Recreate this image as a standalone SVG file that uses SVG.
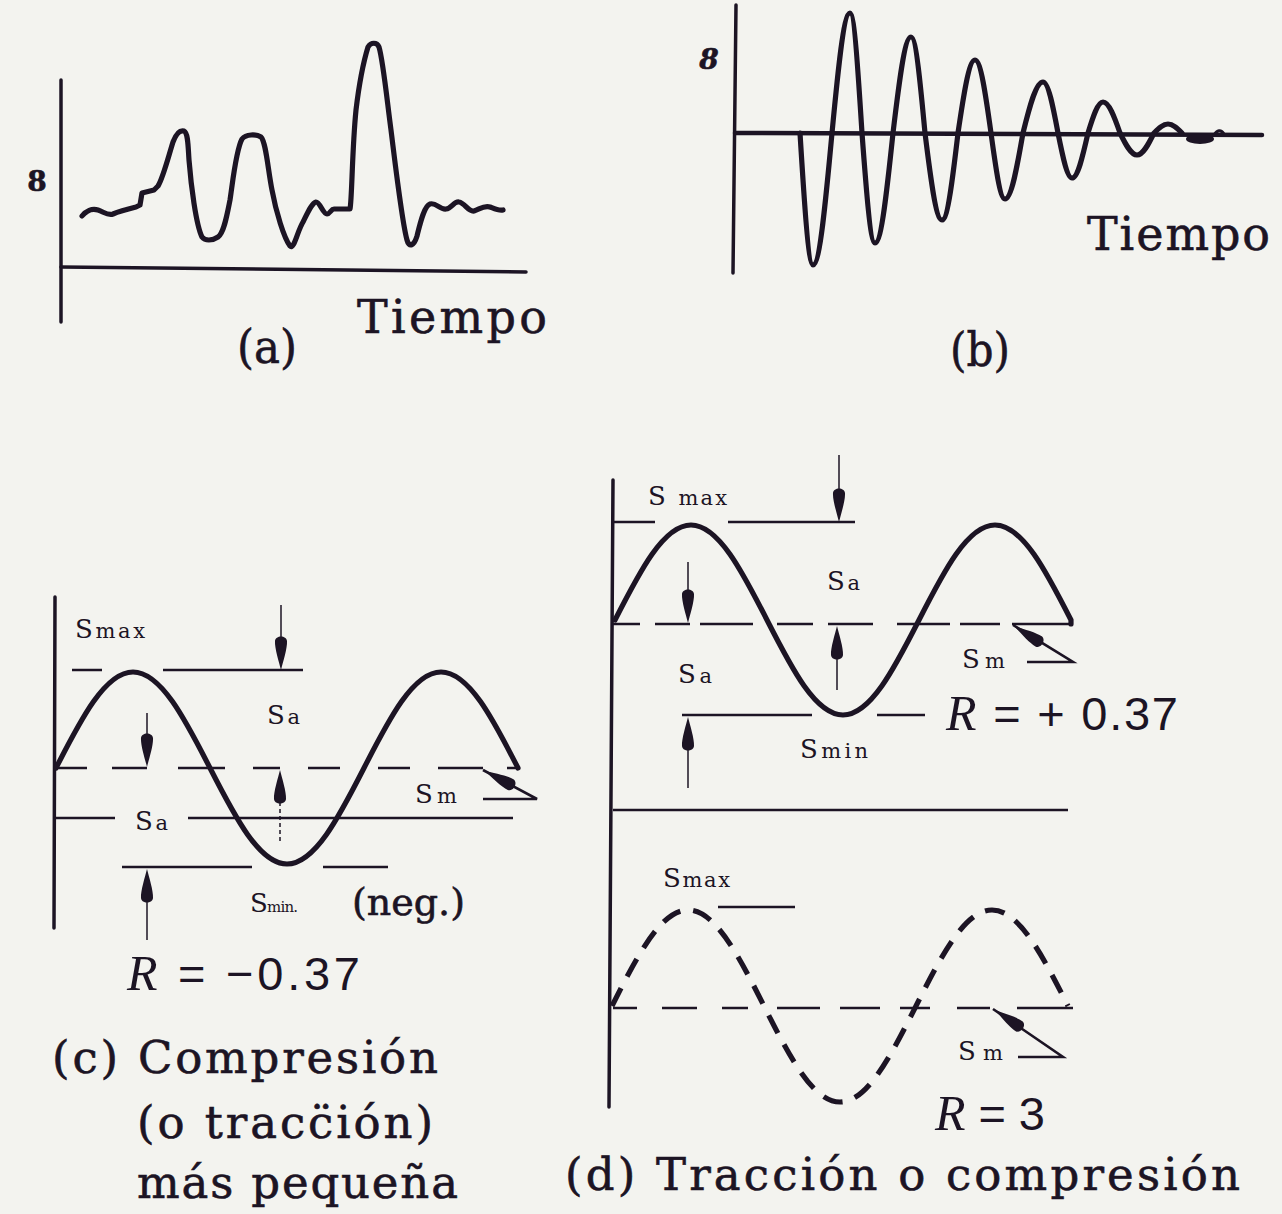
<svg xmlns="http://www.w3.org/2000/svg" xmlns:xlink="http://www.w3.org/1999/xlink" width="1282" height="1214" viewBox="0 0 1282 1214">
<style>
.ink{stroke:#1c1424;fill:none}
.ax{stroke:#1c1424;stroke-width:3.5;fill:none;stroke-linecap:round}
.cv{stroke:#1c1424;stroke-width:5.2;fill:none;stroke-linejoin:round;stroke-linecap:round}
.ref{stroke:#1c1424;stroke-width:2.6;fill:none}
.thin{stroke:#1c1424;stroke-width:1.5;fill:none}
.big{font-family:"DejaVu Serif","Liberation Serif",serif;fill:#1c1424;stroke:#1c1424;stroke-width:0.6}
.lab{font-family:"DejaVu Serif","Liberation Serif",serif;fill:#1c1424;font-size:26px}
.sub{font-size:21px}
.rr{font-family:"Liberation Serif",serif;font-style:italic;fill:#1c1424;font-size:50px}
.rs{font-family:"Liberation Sans",sans-serif;fill:#1c1424;font-size:47px}
.ah{fill:#1c1424}
</style>
<defs>
<path id="ah" d="M0,0 C-2,-8 -6.5,-22 -6,-29 C-5.5,-35 5.5,-35 6,-29 C6.5,-22 2,-8 0,0 Z"/>
</defs>
<rect x="0" y="0" width="1282" height="1214" fill="#f3f3ef"/>

<g id="panel-a">
<line class="ax" x1="61" y1="80" x2="61" y2="322"/>
<line class="ax" x1="61" y1="267" x2="526" y2="272"/>
<text class="big" x="37" y="191" font-size="28" font-weight="bold" text-anchor="middle">8</text>
<path class="cv" d="M82,216 C86,211 92,208 98,210 C104,212 108,216 113,214 C120,211 128,209 136,207 L140,205 L142,193 L154,190 L158,186 C163,178 168,158 173,142 C176,134 180,130 184,131 C188,133 188,145 189,160 C191,185 196,225 202,237 C205,241 212,241 218,237 C224,233 227,215 230,200 C233,180 236,150 242,139 C246,134 256,134 261,137 C266,142 268,170 272,190 C276,212 284,238 290,246 C294,250 297,232 303,222 C308,212 312,203 316,202 C320,202 323,214 327,214 C330,214 331,209 334,209 L350,209 C352,200 352,150 356,110 C359,85 364,60 368,47 C371,42 377,42 379,47 C383,60 387,100 391,130 C396,170 402,222 407,240 C409,248 414,246 417,236 C420,224 424,206 430,204 C436,202 440,210 446,209 C452,208 454,201 459,202 C465,203 468,212 474,211 C480,209 484,205 490,207 C495,209 499,211 503,210"/>
<text class="big" x="357" y="333" font-size="46" textLength="190" lengthAdjust="spacing">Tiempo</text>
<text class="big" x="237" y="363" font-size="46" textLength="60" lengthAdjust="spacingAndGlyphs">(a)</text>
</g>

<g id="panel-b">
<line class="ax" x1="736" y1="5" x2="733" y2="273"/>
<line class="ax" x1="735" y1="133" x2="1262" y2="135" style="stroke-width:4.5"/>
<text class="big" x="709" y="69" font-size="28" font-weight="bold" font-style="italic" text-anchor="middle">8</text>
<path class="cv" d="M800,133 C804.2,200.6 808.3,265 813,265 C819.8,265 825.8,200.6 832,133 C837.9,71.6 843.5,13 850,13 C854.3,13 858.1,71.6 862,133 C866.2,189.3 870.3,243 875,243 C881.5,243 887.1,189.3 893,133 C898.9,83.8 904.5,37 911,37 C916,37 920.4,83.8 925,133 C930.5,177.5 935.9,220 942,220 C947.8,220 952.8,177.5 958,133 C963.5,95.6 968.9,60 975,60 C980.8,60 985.8,95.6 991,133 C995.6,166.8 1000,199 1005,199 C1011.5,199 1017.1,166.8 1023,133 C1029.5,106.9 1035.8,82 1043,82 C1048.4,82 1053.1,106.9 1058,133 C1062.6,156 1067,178 1072,178 C1077.8,178 1082.8,156 1088,133 C1092.9,117.1 1097.6,102 1103,102 C1109.1,102 1114.5,117.1 1120,133 C1125.5,144.3 1130.9,155 1137,155 C1143.1,155 1148.5,144.3 1154,133 C1158.6,128.4 1163,124 1168,124 C1173,124 1177.4,128.4 1182,133"/>
<ellipse class="ah" cx="1200" cy="139" rx="14" ry="5"/>
<path class="ink" stroke-width="3" d="M1214,135 C1217,130 1221,129 1224,134"/>
<text class="big" x="1087" y="250" font-size="46" textLength="183" lengthAdjust="spacing">Tiempo</text>
<text class="big" x="950" y="366" font-size="46" textLength="60" lengthAdjust="spacingAndGlyphs">(b)</text>
</g>

<g id="panel-c">
<line class="ax" x1="55" y1="597" x2="54" y2="928"/>
<path class="cv" d="M56,768 C81.1,718.8 105.3,672 133,672 C160.7,672 184.9,718.8 210,768 C235.1,817.2 259.3,864 287,864 C314.7,864 338.9,817.2 364,768 C389.1,718.8 413.3,672 441,672 C468.7,672 492.9,718.8 518,768"/>
<g class="ref">
<path d="M72,670 H102 M163,670 H303"/>
<path d="M56,768 H87 M112,768 H147 M178,768 H225 M253,768 H280 M308,768 H340 M378,768 H410 M438,768 H483 M507,768 H520"/>
<path d="M55,818 H115 M188,818 H513"/>
<path d="M122,867 H252 M323,867 H388"/>
<path d="M483,799 H537 L483,770"/>
</g>
<g id="arrows-c">
<line class="thin" x1="281" y1="605" x2="281" y2="640"/>
<use xlink:href="#ah" class="ah" transform="translate(281,670)"/>
<line class="thin" x1="147" y1="713" x2="147" y2="740"/>
<use xlink:href="#ah" class="ah" transform="translate(147,767)"/>
<line class="thin" x1="280" y1="795" x2="280" y2="842" stroke-dasharray="4 3"/>
<use xlink:href="#ah" class="ah" transform="translate(280,770) rotate(180)"/>
<line class="thin" x1="147" y1="895" x2="147" y2="940"/>
<use xlink:href="#ah" class="ah" transform="translate(147,869) rotate(180)"/>
<use xlink:href="#ah" class="ah" transform="translate(485,771) rotate(118)"/>
</g>
<text class="lab" x="75" y="638" textLength="70" lengthAdjust="spacing">S<tspan class="sub">max</tspan></text>
<text class="lab" x="267" y="724" textLength="33" lengthAdjust="spacing">S<tspan class="sub">a</tspan></text>
<text class="lab" x="135" y="830" textLength="33" lengthAdjust="spacing">S<tspan class="sub">a</tspan></text>
<text class="lab" x="415" y="803" textLength="42" lengthAdjust="spacing">S<tspan class="sub">m</tspan></text>
<text class="lab" x="250" y="912" font-size="20" textLength="48" lengthAdjust="spacing">S<tspan font-size="15">min.</tspan></text>
<text class="big" x="352" y="915" font-size="38" textLength="113" lengthAdjust="spacing">(neg.)</text>
<text x="127" y="990" textLength="233" lengthAdjust="spacing"><tspan class="rr">R</tspan><tspan class="rs"> = −0.37</tspan></text>
<text class="big" x="52" y="1073" font-size="45" textLength="386" lengthAdjust="spacing">(c) Compresión</text>
<text class="big" x="137" y="1138" font-size="45" textLength="296" lengthAdjust="spacing">(o tracc̈ión)</text>
<text class="big" x="137" y="1198" font-size="45" textLength="321" lengthAdjust="spacing">más pequeña</text>
</g>

<g id="panel-d">
<line class="ax" x1="613" y1="480" x2="609" y2="1107"/>
<path class="cv" d="M615,620 C639.8,571.3 663.6,525 691,525 C718.4,525 742.2,571.3 767,620 C791.8,668.7 815.6,715 843,715 C870.4,715 894.2,668.7 919,620 C943.8,571.3 967.6,525 995,525 C1022.4,525 1046.2,571.3 1071,620 L1071,624"/>
<g class="ref">
<path d="M613,522 H655 M728,522 H855"/>
<path d="M613,624 H640 M655,624 H690 M700,624 H753 M777,624 H813 M828,624 H873 M897,624 H950 M960,624 H1000 M1012,624 H1071"/>
<path d="M682,715 H812 M877,715 H925"/>
<path d="M613,810 H1068"/>
<path d="M1027,662 H1073 L1013,625"/>
<path d="M613,1008 H637 M662,1008 H697 M722,1008 H748 M777,1008 H820 M840,1008 H880 M900,1008 H930 M957,1008 H990 M1017,1008 H1073"/>
<path d="M718,907 H795"/>
<path d="M1018,1057 H1063 L993,1009"/>
</g>
<g id="arrows-d">
<line class="thin" x1="839" y1="455" x2="839" y2="492"/>
<use xlink:href="#ah" class="ah" transform="translate(839,522)"/>
<line class="thin" x1="688" y1="562" x2="688" y2="596"/>
<use xlink:href="#ah" class="ah" transform="translate(688,623)"/>
<line class="thin" x1="837" y1="650" x2="837" y2="690"/>
<use xlink:href="#ah" class="ah" transform="translate(837,626) rotate(180)"/>
<line class="thin" x1="688" y1="745" x2="688" y2="788"/>
<use xlink:href="#ah" class="ah" transform="translate(688,717) rotate(180)"/>
<use xlink:href="#ah" class="ah" transform="translate(1014,626) rotate(122)"/>
<use xlink:href="#ah" class="ah" transform="translate(995,1010) rotate(124)"/>
</g>
<path class="cv" stroke-dasharray="20 13" d="M612,1006 C636.8,956.8 660.6,910 688,910 C715.4,910 739.2,956.8 764,1006 C788.8,1055.2 812.6,1102 840,1102 C867.4,1102 891.2,1055.2 916,1006 C940.8,956.8 964.6,910 992,910 C1019.4,910 1043.2,956.8 1068,1006" style="stroke-linecap:butt"/>
<text class="lab" x="648" y="505" textLength="79" lengthAdjust="spacing">S <tspan class="sub">max</tspan></text>
<text class="lab" x="827" y="590" textLength="33" lengthAdjust="spacing">S<tspan class="sub">a</tspan></text>
<text class="lab" x="678" y="683" textLength="34" lengthAdjust="spacing">S<tspan class="sub">a</tspan></text>
<text class="lab" x="962" y="668" textLength="43" lengthAdjust="spacing">S<tspan class="sub">m</tspan></text>
<text class="lab" x="800" y="758" textLength="68" lengthAdjust="spacing">S<tspan class="sub">min</tspan></text>
<text x="946" y="730" textLength="232" lengthAdjust="spacing"><tspan class="rr">R</tspan><tspan class="rs"> = + 0.37</tspan></text>
<text class="lab" x="663" y="887" textLength="67" lengthAdjust="spacing">S<tspan class="sub">max</tspan></text>
<text class="lab" x="958" y="1060" textLength="45" lengthAdjust="spacing">S<tspan class="sub">m</tspan></text>
<text x="935" y="1130" textLength="110" lengthAdjust="spacing"><tspan class="rr">R</tspan><tspan class="rs">=3</tspan></text>
<text class="big" x="565" y="1190" font-size="45" textLength="675" lengthAdjust="spacing">(d) Tracción o compresión</text>
</g>
</svg>
